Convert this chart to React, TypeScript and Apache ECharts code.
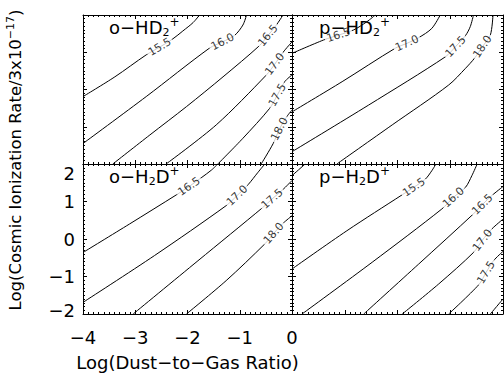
import React, { useEffect, useRef } from "react";
import * as echarts from "echarts";

const X_MIN = -4;
const X_MAX = 0;
const Y_MIN = -2;
const Y_MAX = 2;
const xTickLabels = ["−4", "−3", "−2", "−1", "0"];
const yTickLabels = ["−2", "−1", "0", "1", "2"];
const xTitle = "Log(Dust−to−Gas Ratio)";
const yTitleMain = "Log(Cosmic Ionization Rate/3x10";
const yTitleSup = "−17";
const yTitleEnd = ")";

const panelTitles = [
  "{m|o−HD}{b|2}{t|+}",
  "{m|p−HD}{b|2}{t|+}",
  "{m|o−H}{b|2}{m|D}{t|+}",
  "{m|p−H}{b|2}{m|D}{t|+}",
];

// o-HD2+ contours
const oHD2_155 = [[-4, -0.19], [-3.39, 0.34], [-2.79, 0.93], [-2.53, 1.14], [-2.28, 1.36], [-2.09, 1.57], [-1.89, 1.8], [-1.77, 2.0]];
const oHD2_160 = [[-4, -1.45], [-2.79, -0.19], [-1.58, 1.11], [-1.33, 1.28], [-1.1, 1.45], [-0.94, 1.73], [-0.87, 2.0]];
const oHD2_165 = [[-3.43, -2], [-2.72, -1.22], [-2.02, -0.46], [-1.32, 0.34], [-0.62, 1.18], [-0.46, 1.45], [-0.31, 1.71], [-0.17, 2.0]];
const oHD2_170 = [[-2.41, -2], [-1.45, -0.95], [-0.49, 0.39], [-0.33, 0.68], [-0.17, 1.0], [0, 1.28]];
const oHD2_175 = [[-1.42, -2], [-0.94, -1.31], [-0.43, -0.51], [-0.28, -0.15], [-0.14, 0.21], [0, 0.39]];
const oHD2_180 = [[-0.59, -2], [-0.36, -1.45], [-0.24, -1.06], [-0.1, -0.73], [0, -0.55]];

// p-HD2+ contours
const pHD2_165 = [[-4, 0.97], [-3.4, 1.33], [-3.12, 1.46], [-2.83, 1.6], [-2.58, 1.82], [-2.42, 2.0]];
const pHD2_170 = [[-4, -0.6], [-3.05, 0.21], [-2.04, 1.11], [-1.82, 1.24], [-1.6, 1.39], [-1.35, 1.64], [-1.19, 2.0]];
const pHD2_175 = [[-4, -1.67], [-2.55, -0.42], [-1.09, 0.88], [-0.9, 1.15], [-0.71, 1.45], [-0.62, 1.69], [-0.56, 2.0]];
const pHD2_180 = [[-3.15, -2], [-2.1, -0.95], [-1.03, 0.12], [-0.71, 0.57], [-0.54, 0.84], [-0.39, 1.15], [-0.24, 1.46], [-0.19, 2.0]];

// o-H2D+ contours
const oH2D_165 = [[-4, -0.36], [-3.11, 0.4], [-2.21, 1.18], [-1.97, 1.4], [-1.74, 1.63], [-1.54, 1.84], [-1.42, 2.0]];
const oH2D_170 = [[-4, -1.69], [-2.63, -0.44], [-1.26, 0.89], [-1.05, 1.16], [-0.84, 1.45], [-0.65, 1.78], [-0.52, 2.0]];
const oH2D_175 = [[-3.04, -2], [-1.8, -0.58], [-0.56, 0.84], [-0.38, 1.07], [-0.18, 1.31], [0, 1.56]];
const oH2D_180 = [[-2.02, -2], [-1.26, -1.11], [-0.52, -0.13], [-0.35, 0.15], [-0.17, 0.42], [0, 0.62]];

// p-H2D+ contours
const pH2D_150 = [[-4, 1.69], [-3.75, 2.0]];
const pH2D_155 = [[-4, -0.8], [-2.96, 0.22], [-1.91, 1.18], [-1.69, 1.38], [-1.47, 1.6], [-1.35, 1.82], [-1.27, 2.0]];
const pH2D_160 = [[-3.81, -2], [-2.48, -0.62], [-1.16, 0.8], [-0.94, 1.11], [-0.71, 1.38], [-0.59, 1.69], [-0.49, 2.0]];
const pH2D_165 = [[-2.64, -2], [-1.6, -0.67], [-0.56, 0.67], [-0.39, 0.92], [-0.21, 1.16], [0, 1.4]];
const pH2D_170 = [[-1.91, -2], [-1.22, -1.2], [-0.56, -0.36], [-0.39, -0.03], [-0.21, 0.27], [0, 0.53]];
const pH2D_175 = [[-1.03, -2], [-0.46, -1.22], [-0.32, -0.89], [-0.18, -0.58], [0, -0.33]];
const pH2D_180 = [[-0.24, -2], [0, -1.6]];

type Contour = { level: string | null; pts: number[][]; at: number };

const panelContours: Contour[][] = [
  [
    { level: "15.5", pts: oHD2_155, at: 3 },
    { level: "16.0", pts: oHD2_160, at: 3 },
    { level: "16.5", pts: oHD2_165, at: 5 },
    { level: "17.0", pts: oHD2_170, at: 3 },
    { level: "17.5", pts: oHD2_175, at: 3 },
    { level: "18.0", pts: oHD2_180, at: 2 },
  ],
  [
    { level: "16.5", pts: pHD2_165, at: 2 },
    { level: "17.0", pts: pHD2_170, at: 3 },
    { level: "17.5", pts: pHD2_175, at: 3 },
    { level: "18.0", pts: pHD2_180, at: 5 },
  ],
  [
    { level: "16.5", pts: oH2D_165, at: 3 },
    { level: "17.0", pts: oH2D_170, at: 3 },
    { level: "17.5", pts: oH2D_175, at: 3 },
    { level: "18.0", pts: oH2D_180, at: 3 },
  ],
  [
    { level: null, pts: pH2D_150, at: 0 },
    { level: "15.5", pts: pH2D_155, at: 3 },
    { level: "16.0", pts: pH2D_160, at: 3 },
    { level: "16.5", pts: pH2D_165, at: 3 },
    { level: "17.0", pts: pH2D_170, at: 3 },
    { level: "17.5", pts: pH2D_175, at: 2 },
    { level: null, pts: pH2D_180, at: 0 },
  ],
];

const FONT = "DejaVu Sans";
const GRID_BOXES = [
  { left: 83, top: 15, width: 209, height: 149 },
  { left: 292, top: 15, width: 211, height: 149 },
  { left: 83, top: 164, width: 209, height: 150 },
  { left: 292, top: 164, width: 211, height: 150 },
];
const TITLE_POS = [
  { left: 109, top: 16 },
  { left: 319, top: 16 },
  { left: 109, top: 165 },
  { left: 319, top: 165 },
];

const black = { color: "#000", width: 1 };

function axisCommon(gridIndex: number, position: string, isX: boolean) {
  return {
    type: "value",
    gridIndex,
    position,
    min: isX ? X_MIN : Y_MIN,
    max: isX ? X_MAX : Y_MAX,
    interval: 1,
    axisLine: { show: true, onZero: false, lineStyle: black },
    axisTick: { show: true, inside: true, length: 4, lineStyle: black },
    minorTick: { show: true, splitNumber: 10, length: 2, lineStyle: black },
    splitLine: { show: false },
    minorSplitLine: { show: false },
    axisLabel: { show: false },
  } as any;
}

function buildOption() {
  const xAxis: any[] = [];
  const yAxis: any[] = [];
  GRID_BOXES.forEach((_, gi) => {
    const xb = axisCommon(gi, "bottom", true);
    const xt = axisCommon(gi, "top", true);
    const yl = axisCommon(gi, "left", false);
    const yr = axisCommon(gi, "right", false);
    if (gi === 2) {
      xb.axisLabel = {
        show: true,
        margin: 14,
        color: "#000",
        fontSize: 18,
        fontWeight: "normal",
        fontFamily: FONT,
        formatter: (v: number) => xTickLabels[Math.round(v - X_MIN)],
      };
      xb.name = xTitle;
      xb.nameLocation = "middle";
      xb.nameGap = 39;
      xb.nameTextStyle = { color: "#000", fontSize: 18, fontWeight: "normal", fontFamily: FONT };
      yl.axisLabel = {
        show: true,
        margin: 8,
        color: "#000",
        fontSize: 18,
        fontFamily: FONT,
        formatter: (v: number) => {
          const s = yTickLabels[Math.round(v - Y_MIN)];
          if (v === Y_MAX) return "{s|\u00a0}\n{m|" + s + "}";
          if (v === Y_MIN) return "{m|" + s + "}\n{q|\u00a0}";
          return "{m|" + s + "}";
        },
        rich: {
          m: { fontSize: 18, lineHeight: 18, color: "#000", fontWeight: "normal", fontFamily: FONT },
          s: { fontSize: 10, lineHeight: 18, color: "#000" },
          q: { fontSize: 10, lineHeight: 8, color: "#000" },
        },
      };
    }
    xAxis.push(xb, xt);
    yAxis.push(yl, yr);
  });

  const series: any[] = [];
  panelContours.forEach((contours, gi) => {
    const g = GRID_BOXES[gi];
    const sx = g.width / (X_MAX - X_MIN);
    const sy = g.height / (Y_MAX - Y_MIN);
    contours.forEach((c) => {
      series.push({
        type: "line",
        xAxisIndex: 2 * gi,
        yAxisIndex: 2 * gi,
        data: c.pts,
        symbol: "none",
        smooth: 0.3,
        clip: true,
        silent: true,
        lineStyle: { color: "#000", width: 1 },
        z: 2,
      });
    });
    const labelData = contours
      .filter((c) => c.level)
      .map((c) => {
        const a = c.pts[c.at - 1];
        const b = c.pts[c.at + 1];
        const ang = (Math.atan2((b[1] - a[1]) * sy, (b[0] - a[0]) * sx) * 180) / Math.PI;
        return { name: c.level, value: c.pts[c.at], label: { rotate: ang } };
      });
    series.push({
      type: "scatter",
      xAxisIndex: 2 * gi,
      yAxisIndex: 2 * gi,
      symbolSize: 0.1,
      itemStyle: { color: "rgba(0,0,0,0)" },
      silent: true,
      z: 5,
      data: labelData,
      label: {
        show: true,
        position: "inside",
        formatter: "{b}",
        fontSize: 11,
        fontWeight: "normal",
        fontFamily: FONT,
        color: "#000",
        backgroundColor: "#fff",
        padding: [0, 2],
        align: "center",
        verticalAlign: "middle",
      },
    });
  });

  const titleRich = {
    m: { fontSize: 18, lineHeight: 22, color: "#000", fontWeight: "normal", fontFamily: FONT },
    b: { fontSize: 11, verticalAlign: "bottom", color: "#000", fontWeight: "normal", fontFamily: FONT },
    t: { fontSize: 12, verticalAlign: "top", color: "#000", fontWeight: "normal", fontFamily: FONT },
  };

  return {
    animation: false,
    backgroundColor: "#fff",
    textStyle: { fontFamily: FONT, fontWeight: "normal" },
    grid: GRID_BOXES.map((g) => ({ ...g, containLabel: false, outerBoundsMode: "none" })),
    title: panelTitles.map((t, i) => ({
      text: t,
      left: TITLE_POS[i].left,
      top: TITLE_POS[i].top,
      padding: 0,
      textStyle: { rich: titleRich, fontWeight: "normal", color: "#000", fontFamily: FONT },
    })),
    xAxis,
    yAxis,
    series,
    graphic: [
      {
        type: "text",
        x: 15,
        y: 160,
        rotation: Math.PI / 2,
        style: {
          text: "{m|" + yTitleMain + "}{t|" + yTitleSup + "}{m|" + yTitleEnd + "}",
          rich: {
            m: { fontSize: 16.5, lineHeight: 20, fill: "#000", fontFamily: FONT },
            t: { fontSize: 11, verticalAlign: "top", fill: "#000", fontFamily: FONT },
          },
          align: "center",
          verticalAlign: "middle",
          fill: "#000",
        },
      },
    ],
  };
}

export default function App() {
  const ref = useRef<HTMLDivElement>(null);
  useEffect(() => {
    if (!ref.current) return;
    const chart = echarts.init(ref.current, undefined, { renderer: "svg" });
    chart.setOption(buildOption() as any);
    return () => chart.dispose();
  }, []);
  return (
    <div
      ref={ref}
      style={{ position: "absolute", left: 0, top: 0, width: 504, height: 374, background: "#fff" }}
    />
  );
}
